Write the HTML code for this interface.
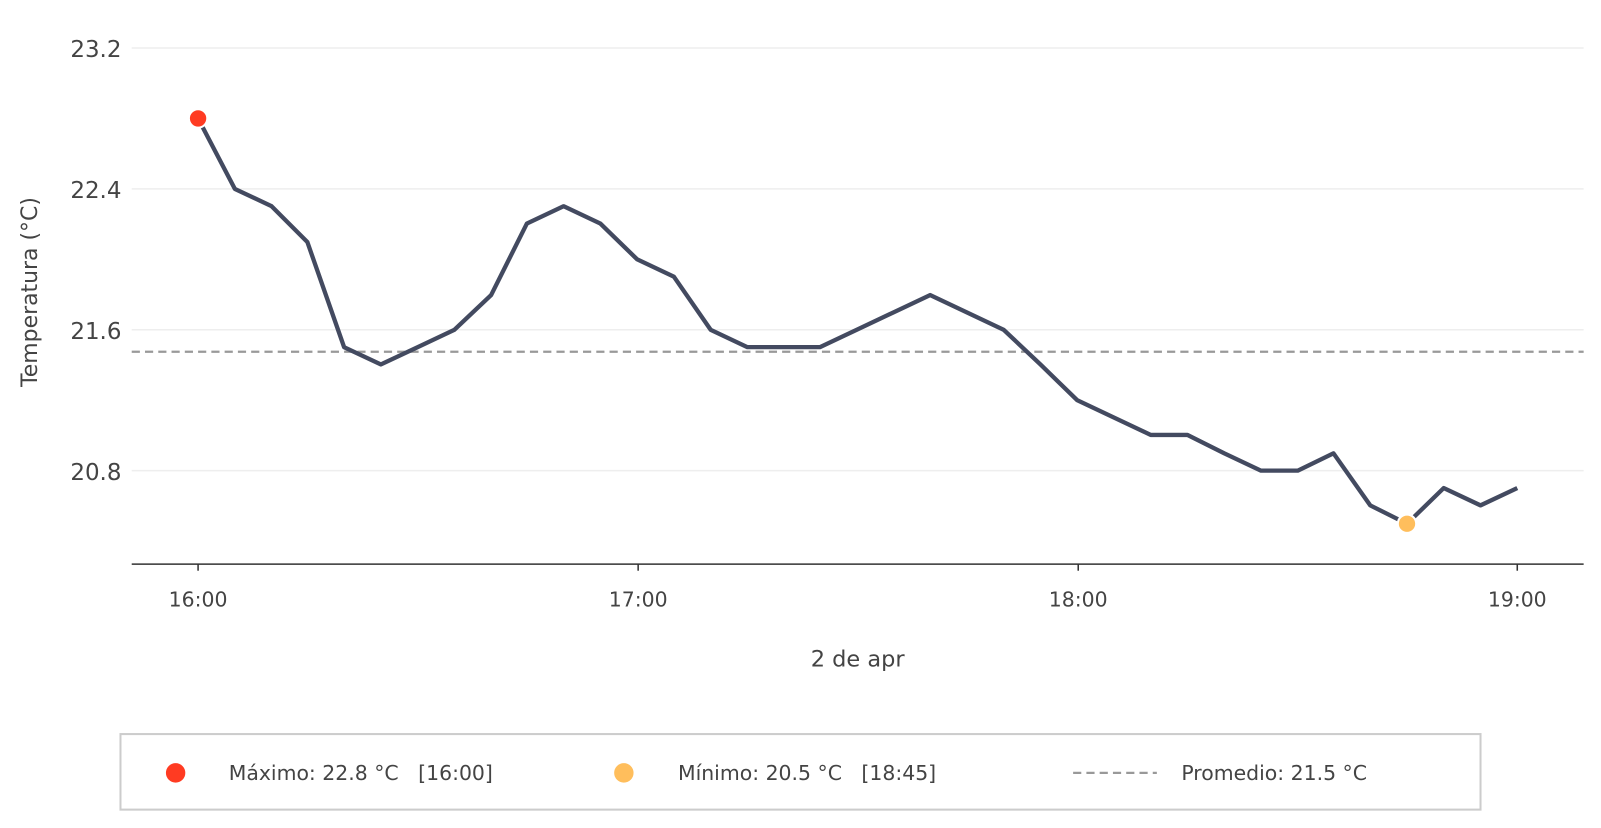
<!DOCTYPE html>
<html><head><meta charset="utf-8"><style>
body{margin:0;background:#fff;}
svg text{font-family:"DejaVu Sans","Liberation Sans",sans-serif;fill:#444;white-space:pre;}
</style></head><body>
<svg width="1601" height="828" viewBox="0 0 1568 811" preserveAspectRatio="none" xmlns="http://www.w3.org/2000/svg" style="display:block">
<g stroke="#eeeeee" stroke-width="1.5">
<line x1="129" y1="47" x2="1551" y2="47"/>
<line x1="129" y1="185" x2="1551" y2="185"/>
<line x1="129" y1="323" x2="1551" y2="323"/>
<line x1="129" y1="461" x2="1551" y2="461"/>
</g>
<g font-size="22.5" text-anchor="end">
<text x="119" y="56">23.2</text>
<text x="119" y="194">22.4</text>
<text x="119" y="332">21.6</text>
<text x="119" y="470">20.8</text>
</g>
<text transform="translate(36,286) rotate(-90)" font-size="21.5" text-anchor="middle">Temperatura (°C)</text>
<line x1="129" y1="552.5" x2="1551" y2="552.5" stroke="#333" stroke-width="1.5"/>
<g stroke="#333" stroke-width="1.5">
<line x1="194" y1="552" x2="194" y2="559"/><line x1="625" y1="552" x2="625" y2="559"/>
<line x1="1056" y1="552" x2="1056" y2="559"/><line x1="1486" y1="552" x2="1486" y2="559"/>
</g>
<g font-size="20" text-anchor="middle">
<text x="194" y="594">16:00</text><text x="625" y="594">17:00</text>
<text x="1056" y="594">18:00</text><text x="1486" y="594">19:00</text>
<text x="840" y="653" font-size="22">2 de apr</text>
</g>
<line x1="129" y1="344.5" x2="1551" y2="344.5" stroke="#999" stroke-width="2.2" stroke-dasharray="8,5"/>
<polyline fill="none" stroke="#434a60" stroke-width="4.2" stroke-linejoin="round" points="194,116 230,185 266,202 301,237 337,340 373,357 409,340 445,323 481,289 516,219 552,202 588,219 624,254 660,271 696,323 732,340 768,340 803,340 839,323 875,306 911,289 947,306 983,323 1019,357 1055,392 1091,409 1127,426 1163,426 1199,444 1235,461 1271,461 1306,444 1342,495 1378,513 1414,478 1450,495 1486,478"/>
<circle cx="194" cy="116" r="9" fill="#ff3b22" stroke="#fff" stroke-width="2"/>
<circle cx="1378" cy="513" r="9" fill="#ffbe5c" stroke="#fff" stroke-width="2"/>
<rect x="118" y="719" width="1332" height="74" fill="#fff" stroke="#cccccc" stroke-width="2"/>
<circle cx="172" cy="757" r="9.5" fill="#ff3b22"/>
<circle cx="611" cy="757" r="9.5" fill="#ffbe5c"/>
<line x1="1051" y1="757" x2="1133" y2="757" stroke="#999" stroke-width="2.2" stroke-dasharray="8,5"/>
<g font-size="20">
<text x="224" y="764">Máximo: 22.8 °C   [16:00]</text>
<text x="664" y="764">Mínimo: 20.5 °C   [18:45]</text>
<text x="1157" y="764">Promedio: 21.5 °C</text>
</g>
</svg>
</body></html>
